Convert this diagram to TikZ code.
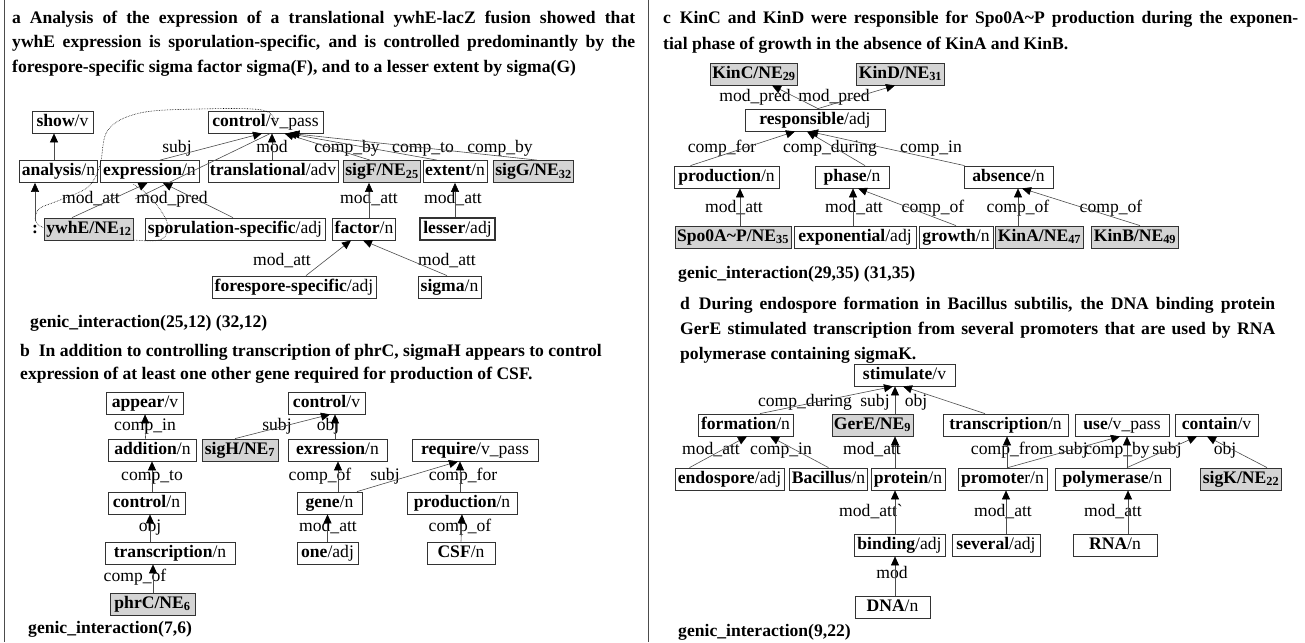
\documentclass[tikz,border=0pt]{standalone}
\usepackage{fontspec}
\setmainfont{Liberation Serif}
\usetikzlibrary{arrows.meta}
\newcommand{\wpos}[2]{\textbf{#1}/#2}
\newcommand{\nement}[2]{\textbf{#1/NE\textsubscript{#2}}}

\begin{document}
\begin{tikzpicture}[x=1pt,y=-1pt,
    every node/.style={font=\fontsize{17.6}{20}\selectfont},
    wbox/.style={draw=black!80, line width=0.8pt, minimum height=22pt, inner xsep=2pt, inner ysep=0pt, text height=12pt, text depth=4pt},
    gbox/.style={wbox, fill=black!17},
    lab/.style={inner sep=0pt, text height=12pt, text depth=4pt},
    dep/.style={-{Triangle[length=9pt,width=8pt,color=black]}, line width=0.6pt, draw=black!70},
    title/.style={anchor=base west, inner sep=0pt, font=\fontsize{17.6}{20}\selectfont\bfseries}]
    \useasboundingbox (0,0) rectangle (1305,642);
    %Frames
    \draw[line width=0.8pt, black!70] (4,0) -- (4,642);
    \draw[line width=0.8pt, black!70] (648,0) -- (648,642);

    %Panel a
    \node[title] (ta1) at (12,24) {\makebox[623pt][s]{a\enspace Analysis of the expression of a translational ywhE-lacZ fusion showed that}};
    \node[title] (ta2) at (12,48) {\makebox[623pt][s]{ywhE expression is sporulation-specific, and is controlled predominantly by the}};
    \node[title] (ta3) at (12,72) {forespore-specific sigma factor sigma(F), and to a lesser extent by sigma(G)};
    \node[wbox, minimum width=61pt] (show) at (62.5,122) {\wpos{show}{v}};
    \node[wbox, minimum width=115pt] (ctrlA) at (265.5,122) {\wpos{control}{v\_pass}};
    \node[wbox, minimum width=77pt] (analysis) at (58.5,171.5) {\wpos{analysis}{n}};
    \node[wbox, minimum width=99pt] (exprA) at (149.5,171.5) {\wpos{expression}{n}};
    \node[wbox, minimum width=130pt] (transl) at (273,171.5) {\wpos{translational}{adv}};
    \node[gbox, minimum width=74pt] (sigF) at (382,171.5) {\nement{sigF}{25}};
    \node[wbox, minimum width=64pt] (extent) at (455,171.5) {\wpos{extent}{n}};
    \node[gbox, minimum width=77pt] (sigG) at (533.5,171.5) {\nement{sigG}{32}};
    \coordinate (loopend) at (135,199);
    \draw[densely dotted, line width=0.6pt] plot[smooth, tension=0.6] coordinates {([xshift=10pt]ctrlA.center) (262,110) (200,109) (140,113) (108,130) (100,165) (88,187) (60,200) (38,210) (40,226) (80,234) (133,240) (162,239) (167,222) (150,197) (133,184)};
    \draw[line width=0.6pt, black!70] ([xshift=5pt]ctrlA.south) -- (loopend);
    \node[lab] (colon) at (35,229) {\textbf{:}};
    \node[gbox, minimum width=88pt] (ywhE) at (89,229) {\nement{ywhE}{12}};
    \node[wbox, minimum width=180pt] (sporul) at (235,229) {\wpos{sporulation-specific}{adj}};
    \node[wbox, minimum width=62pt] (factor) at (364,229) {\wpos{factor}{n}};
    \node[wbox, minimum width=75pt, line width=1.6pt] (lesser) at (457.5,229) {\wpos{lesser}{adj}};
    \node[wbox, minimum width=164pt] (foresp) at (294,287) {\wpos{forespore-specific}{adj}};
    \node[wbox, minimum width=63pt] (sigma) at (449.5,287) {\wpos{sigma}{n}};
    \node[title] (genA) at (30,327) {genic\_interaction(25,12) (32,12)};
    \node[lab] (la1) at (177,148) {subj};
    \node[lab] (la2) at (272,148) {mod};
    \node[lab] (la3) at (347,148) {comp\_by};
    \node[lab] (la4) at (423,148) {comp\_to};
    \node[lab] (la5) at (500,148) {comp\_by};
    \node[lab] (la6) at (91,199) {mod\_att};
    \node[lab] (la7) at (172,199) {mod\_pred};
    \node[lab] (la8) at (369,199) {mod\_att};
    \node[lab] (la9) at (453,199) {mod\_att};
    \node[lab] (la10) at (282,261) {mod\_att};
    \node[lab] (la11) at (447,261) {mod\_att};
    \draw[dep] ([xshift=-4.5pt]analysis.north) -- ([xshift=-8.5pt]show.south);
    \draw[dep] (colon.north) -- ([xshift=-23.5pt]analysis.south);
    \draw[dep] ([xshift=10.5pt]exprA.north) -- ([xshift=-3.5pt]ctrlA.south);
    \draw[dep] ([xshift=-1pt]transl.north) -- ([xshift=6.5pt]ctrlA.south);
    \draw[dep] ([xshift=-12pt]sigF.north) -- ([xshift=19pt]ctrlA.south);
    \draw[dep] ([xshift=-18pt]extent.north) -- ([xshift=22pt]ctrlA.south);
    \draw[dep] ([xshift=3.5pt]sigG.north) -- ([xshift=25pt]ctrlA.south);
    \draw[dep] ([xshift=-17pt]ywhE.north) -- ([xshift=-2pt]exprA.south);
    \draw[dep] ([xshift=-2pt]sporul.north) -- ([xshift=13.5pt]exprA.south);
    \draw[dep] ([xshift=5pt]factor.north) -- ([xshift=-13pt]sigF.south);
    \draw[dep] ([xshift=-2.5pt]lesser.north) -- (extent.south);
    \draw[dep] ([xshift=12pt]foresp.north) -- ([xshift=-13pt]factor.south);
    \draw[dep] ([xshift=-2.5pt]sigma.north) -- ([xshift=-1pt]factor.south);

    %Panel b
    \node[title] (tb1) at (20,356) {b\enspace In addition to controlling transcription of phrC, sigmaH appears to control};
    \node[title] (tb2) at (20,379) {expression of at least one other gene required for production of CSF.};
    \node[wbox, minimum width=77pt] (appear) at (145,403) {\wpos{appear}{v}};
    \node[wbox, minimum width=77pt] (ctrlB) at (326.5,403) {\wpos{control}{v}};
    \node[wbox, minimum width=88pt] (addition) at (152.5,450) {\wpos{addition}{n}};
    \node[gbox, minimum width=76pt] (sigH) at (240,450) {\nement{sigH}{7}};
    \node[wbox, minimum width=99pt] (exprB) at (337.5,450) {\wpos{exression}{n}};
    \node[wbox, minimum width=126pt] (require) at (475,450) {\wpos{require}{v\_pass}};
    \node[wbox, minimum width=77pt] (ctrlN) at (146.5,503) {\wpos{control}{n}};
    \node[wbox, minimum width=65pt] (gene) at (329.5,503) {\wpos{gene}{n}};
    \node[wbox, minimum width=110pt] (prodB) at (462,503) {\wpos{production}{n}};
    \node[wbox, minimum width=130pt] (transB) at (170,553) {\wpos{transcription}{n}};
    \node[wbox, minimum width=61pt] (one) at (327.5,553) {\wpos{one}{adj}};
    \node[wbox, minimum width=68pt] (csf) at (461,553) {\wpos{CSF}{n}};
    \node[gbox, minimum width=85pt] (phrC) at (152.5,604) {\nement{phrC}{6}};
    \node[title] (genB) at (28,633) {genic\_interaction(7,6)};
    \node[lab] (lb1) at (145,426) {comp\_in};
    \node[lab] (lb2) at (277,426) {subj};
    \node[lab] (lb3) at (328,426) {obj};
    \node[lab] (lb4) at (152,476) {comp\_to};
    \node[lab] (lb5) at (320,476) {comp\_of};
    \node[lab] (lb6) at (385,476) {subj};
    \node[lab] (lb7) at (463,476) {comp\_for};
    \node[lab] (lb8) at (150,527) {obj};
    \node[lab] (lb9) at (328,527) {mod\_att};
    \node[lab] (lb10) at (460,527) {comp\_of};
    \node[lab] (lb11) at (135,577) {comp\_of};
    \draw[dep] ([xshift=-7pt]addition.north) -- (appear.south);
    \draw[dep] ([xshift=-5pt]sigH.north) -- ([xshift=3.5pt]ctrlB.south);
    \draw[dep] ([xshift=-2.5pt]exprB.north) -- ([xshift=8.5pt]ctrlB.south);
    \draw[dep] ([xshift=5.5pt]ctrlN.north) -- ([xshift=-0.5pt]addition.south);
    \draw[dep] ([xshift=8.5pt]gene.north) -- ([xshift=0.5pt]exprB.south);
    \draw[dep] ([xshift=27.5pt]gene.north) -- ([xshift=-17pt]require.south);
    \draw[dep] ([xshift=-2pt]prodB.north) -- ([xshift=-15pt]require.south);
    \draw[dep] ([xshift=-20pt]transB.north) -- ([xshift=3.5pt]ctrlN.south);
    \draw[dep] ([xshift=0.5pt]phrC.north) -- ([xshift=-17pt]transB.south);
    \draw[dep] (one.north) -- ([xshift=-2pt]gene.south);
    \draw[dep] (csf.north) -- (prodB.south);

    %Panel c
    \node[title] (tc1) at (663,24) {\makebox[635pt][s]{c\enspace KinC and KinD were responsible for Spo0A\textasciitilde P production during the exponen-}};
    \node[title] (tc2) at (663,50) {tial phase of growth in the absence of KinA and KinB.};
    \node[gbox, minimum width=82pt] (kinC) at (754,74) {\nement{KinC}{29}};
    \node[gbox, minimum width=85pt] (kinD) at (900.5,74) {\nement{KinD}{31}};
    \node[wbox, minimum width=140pt] (resp) at (815,120) {\wpos{responsible}{adj}};
    \node[wbox, minimum width=105pt] (prodC) at (726.5,177) {\wpos{production}{n}};
    \node[wbox, minimum width=74pt] (phase) at (852,177) {\wpos{phase}{n}};
    \node[wbox, minimum width=89pt] (absence) at (1008.5,177) {\wpos{absence}{n}};
    \node[gbox, minimum width=114pt] (spo) at (733,237) {\nement{Spo0A\textasciitilde P}{35}};
    \node[wbox, minimum width=122pt] (expo) at (855,237) {\wpos{exponential}{adj}};
    \node[wbox, minimum width=74pt] (growth) at (956,237) {\wpos{growth}{n}};
    \node[gbox, minimum width=85pt] (kinA) at (1039.5,237) {\nement{KinA}{47}};
    \node[gbox, minimum width=82pt] (kinB) at (1135,237) {\nement{KinB}{49}};
    \node[title] (genC) at (678,278) {genic\_interaction(29,35) (31,35)};
    \node[lab] (lc1) at (755,97) {mod\_pred};
    \node[lab] (lc2) at (834,97) {mod\_pred};
    \node[lab] (lc3) at (722,148) {comp\_for};
    \node[lab] (lc4) at (830,148) {comp\_during};
    \node[lab] (lc5) at (931,148) {comp\_in};
    \node[lab] (lc6) at (734,208) {mod\_att};
    \node[lab] (lc7) at (854,208) {mod\_att};
    \node[lab] (lc8) at (933,208) {comp\_of};
    \node[lab] (lc9) at (1018,208) {comp\_of};
    \node[lab] (lc10) at (1111,208) {comp\_of};
    \draw[dep] ([xshift=3pt]resp.north) -- ([xshift=18pt]kinC.south);
    \draw[dep] ([xshift=3pt]resp.north) -- ([xshift=-5.5pt]kinD.south);
    \draw[dep] ([xshift=-36pt]prodC.north) -- ([xshift=-20pt]resp.south);
    \draw[dep] ([xshift=13pt]phase.north) -- ([xshift=-8pt]resp.south);
    \draw[dep] ([xshift=-44pt]absence.north) -- ([xshift=-6pt]resp.south);
    \draw[dep] ([xshift=7pt]spo.north) -- ([xshift=13.5pt]prodC.south);
    \draw[dep] ([xshift=-2pt]expo.north) -- ([xshift=1pt]phase.south);
    \draw[dep] (growth.north) -- ([xshift=6pt]phase.south);
    \draw[dep] ([xshift=-21.5pt]kinA.north) -- ([xshift=9.5pt]absence.south);
    \draw[dep] ([xshift=5pt]kinB.north) -- ([xshift=13.5pt]absence.south);

    %Panel d
    \node[title] (td1) at (680,309) {\makebox[595pt][s]{d\enspace During endospore formation in Bacillus subtilis, the DNA binding protein}};
    \node[title] (td2) at (680,334) {\makebox[595pt][s]{GerE stimulated transcription from several promoters that are used by RNA}};
    \node[title] (td3) at (680,359) {polymerase containing sigmaK.};
    \node[wbox, minimum width=101pt] (stim) at (904.5,375) {\wpos{stimulate}{v}};
    \node[wbox, minimum width=95pt] (form) at (745.5,425) {\wpos{formation}{n}};
    \node[gbox, minimum width=75pt] (gerE) at (872.5,425) {\nement{GerE}{9}};
    \node[wbox, minimum width=125pt] (transD) at (1005.5,425) {\wpos{transcription}{n}};
    \node[wbox, minimum width=94pt] (use) at (1122,425) {\wpos{use}{v\_pass}};
    \node[wbox, minimum width=83pt] (contain) at (1216.5,425) {\wpos{contain}{v}};
    \node[wbox, minimum width=109pt] (endo) at (729.5,479) {\wpos{endospore}{adj}};
    \node[wbox, minimum width=77pt] (bac) at (828.5,479) {\wpos{Bacillus}{n}};
    \node[wbox, minimum width=74pt] (protein) at (908,479) {\wpos{protein}{n}};
    \node[wbox, minimum width=89pt] (promoter) at (1002.5,479) {\textbf{promote}r/n};
    \node[wbox, minimum width=115pt] (polym) at (1112.5,479) {\wpos{polymerase}{n}};
    \node[gbox, minimum width=78pt] (sigK) at (1241,479) {\nement{sigK}{22}};
    \node[wbox, minimum width=91pt] (binding) at (899.5,545) {\wpos{binding}{adj}};
    \node[wbox, minimum width=88pt] (several) at (996,545) {\wpos{several}{adj}};
    \node[wbox, minimum width=84pt] (rna) at (1115,545) {\wpos{RNA}{n}};
    \node[wbox, minimum width=75pt] (dna) at (892.5,607) {\wpos{DNA}{n}};
    \node[title] (genD) at (678,636) {genic\_interaction(9,22)};
    \node[lab] (ld1) at (805,402) {comp\_during};
    \node[lab] (ld2) at (875,402) {subj};
    \node[lab] (ld3) at (916,402) {obj};
    \node[lab] (ld4) at (711,450) {mod\_att};
    \node[lab] (ld5) at (781,450) {comp\_in};
    \node[lab] (ld6) at (872,450) {mod\_att};
    \node[lab] (ld7) at (1012,450) {comp\_from};
    \node[lab] (ld8) at (1073,450) {subj};
    \node[lab] (ld9) at (1117,450) {comp\_by};
    \node[lab] (ld10) at (1167,450) {subj};
    \node[lab] (ld11) at (1225,450) {obj};
    \node[lab] (ld12) at (871,512) {mod\_att\textasciigrave};
    \node[lab] (ld13) at (1003,512) {mod\_att};
    \node[lab] (ld14) at (1113,512) {mod\_att};
    \node[lab] (ld15) at (892,574) {mod};
    \draw[dep] ([xshift=14.5pt]form.north) -- ([xshift=-11.5pt]stim.south);
    \draw[dep] ([xshift=22.5pt]gerE.north) -- ([xshift=-9.5pt]stim.south);
    \draw[dep] ([xshift=-20.5pt]transD.north) -- ([xshift=-1.5pt]stim.south);
    \draw[dep] ([xshift=-40pt]endo.north) -- ([xshift=1.5pt]form.south);
    \draw[dep] (bac.north) -- ([xshift=24.5pt]form.south);
    \draw[dep] ([xshift=-13pt]protein.north) -- ([xshift=22.5pt]gerE.south);
    \draw[dep] ([xshift=4.5pt]promoter.north) -- ([xshift=1.5pt]transD.south);
    \draw[dep] ([xshift=5.5pt]promoter.north) -- ([xshift=-2pt]use.south);
    \draw[dep] ([xshift=14.5pt]polym.north) -- ([xshift=5pt]use.south);
    \draw[dep] ([xshift=14.5pt]polym.north) -- ([xshift=-19.5pt]contain.south);
    \draw[dep] ([xshift=26pt]sigK.north) -- ([xshift=-9.5pt]contain.south);
    \draw[dep] ([xshift=-4.5pt]binding.north) -- ([xshift=-13pt]protein.south);
    \draw[dep] ([xshift=2.5pt]dna.north) -- ([xshift=-4.5pt]binding.south);
    \draw[dep] ([xshift=10pt]several.north) -- ([xshift=3.5pt]promoter.south);
    \draw[dep] ([xshift=13pt]rna.north) -- ([xshift=15.5pt]polym.south);
\end{tikzpicture}
\end{document}
